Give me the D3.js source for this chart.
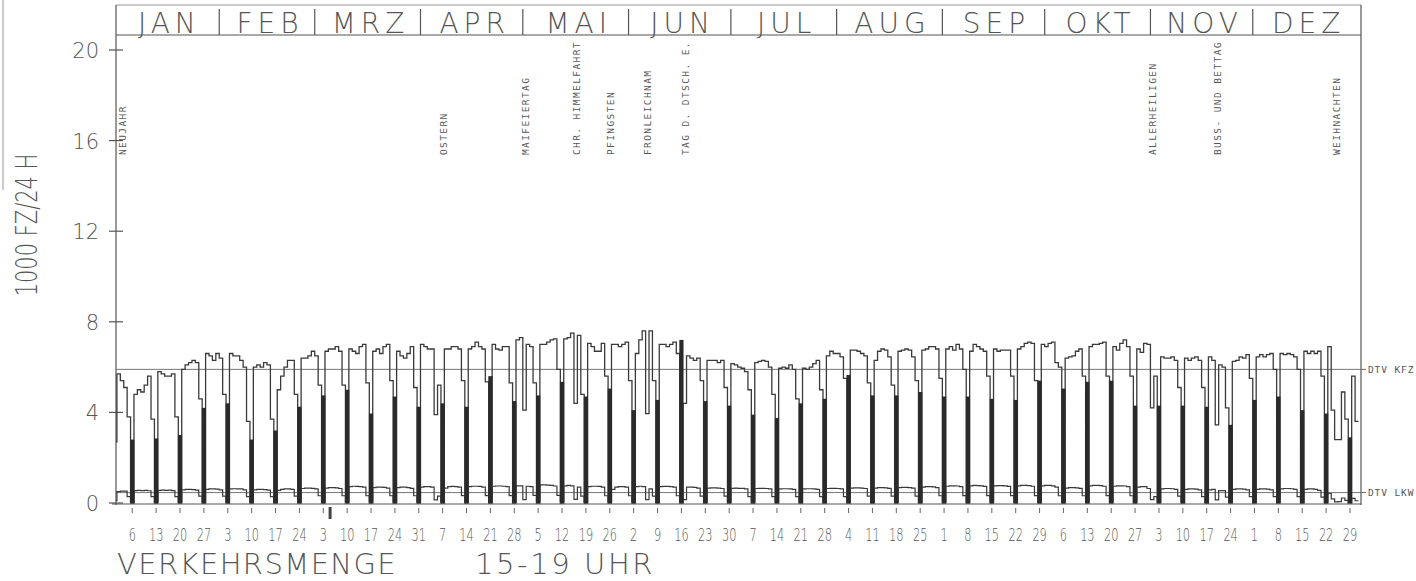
<!DOCTYPE html>
<html>
<head>
<meta charset="utf-8">
<script src="https://cdn.jsdelivr.net/npm/d3@7"></script>
<style>
  html, body { margin: 0; padding: 0; background: #fff; }
  svg { display: block; }
  text { font-family: "DejaVu Sans", sans-serif; font-weight: 200; fill: #555; }
  .mono { font-family: "DejaVu Sans Mono", monospace; font-weight: normal; }
</style>
</head>
<body>
<svg id="chart" width="1416" height="581"></svg>
<script>
// Monate und Tage (1985)
const monthNames = ["JAN", "FEB", "MRZ", "APR", "MAI", "JUN", "JUL", "AUG", "SEP", "OKT", "NOV", "DEZ"];
const monthLengths = [31, 28, 31, 30, 31, 30, 31, 31, 30, 31, 30, 31];

// Sonntage (Achsbeschriftung)
const sundayTicks = [6, 13, 20, 27, 3, 10, 17, 24, 3, 10, 17, 24, 31, 7, 14, 21, 28, 5, 12, 19, 26,
                     2, 9, 16, 23, 30, 7, 14, 21, 28, 4, 11, 18, 25, 1, 8, 15, 22, 29,
                     6, 13, 20, 27, 3, 10, 17, 24, 1, 8, 15, 22, 29];

const yTicks = [0, 4, 8, 12, 16, 20];

// Feiertage
const holidayNames = ["NEUJAHR", "OSTERN", "MAIFEIERTAG", "CHR. HIMMELFAHRT", "PFINGSTEN", "FRONLEICHNAM",
                      "TAG D. DTSCH. E.", "ALLERHEILIGEN", "BUSS- UND BETTAG", "WEIHNACHTEN"];
const holidayDates = [[1, 1], [4, 7], [5, 1], [5, 16], [5, 26], [6, 6], [6, 17], [11, 1], [11, 20], [12, 25]];

// Tageswerte KFZ (1000 Fz)
const kfzJan = [2.7, 5.7, 5.4, 5.1, 3.8, 2.8, 4.8, 5.0, 4.9, 5.2, 5.6, 3.7, 2.85, 5.8, 5.7, 5.6, 5.6, 5.7, 3.8, 3.0,
                5.9, 6.1, 6.2, 6.3, 6.2, 4.6, 4.2, 6.6, 6.5, 6.3, 6.6];
const kfzFeb = [6.4, 4.8, 4.4, 6.6, 6.5, 6.5, 6.3, 6.0, 3.6, 2.8, 6.0, 6.1, 6.0, 6.2, 6.1, 3.7, 3.2, 5.0, 5.6, 6.0,
                6.3, 6.3, 4.8, 4.25, 6.4, 6.4, 6.5, 6.7];
const kfzMrz = [6.5, 5.2, 4.75, 6.7, 6.8, 6.8, 6.9, 6.7, 5.2, 5.0, 6.8, 6.7, 6.6, 6.9, 7.0, 5.3, 3.95, 6.7, 6.8, 6.6,
                6.9, 7.0, 5.4, 4.7, 6.7, 6.5, 6.4, 6.6, 6.9, 5.1, 4.25];
const kfzApr = [7.0, 6.9, 6.8, 6.8, 3.9, 5.2, 4.4, 6.8, 6.8, 6.9, 6.9, 6.8, 5.4, 4.25, 6.8, 6.9, 7.1, 6.9, 6.8, 5.35,
                5.6, 7.0, 6.8, 6.75, 6.9, 6.9, 5.3, 4.5, 7.2, 7.3];
const kfzMai = [4.1, 7.0, 6.9, 5.3, 4.75, 7.0, 7.0, 7.1, 7.2, 7.25, 5.9, 5.35, 7.25, 7.3, 7.5, 4.4, 7.4, 4.8, 4.7, 7.05,
                6.9, 6.7, 6.7, 7.05, 5.6, 5.05, 7.0, 7.0, 6.9, 7.0, 7.1];
const kfzJun = [5.4, 4.1, 6.6, 7.2, 7.6, 3.95, 7.6, 5.4, 4.55, 7.0, 7.0, 6.9, 7.0, 7.1, 6.6, 7.2, 4.4, 6.5, 6.4, 6.3,
                6.4, 5.4, 4.5, 6.3, 6.3, 6.3, 6.2, 6.3, 5.1, 4.3];
const kfzJul = [6.15, 6.1, 6.0, 5.95, 5.8, 5.0, 3.9, 6.2, 6.25, 6.3, 6.25, 6.0, 4.8, 3.75, 5.95, 6.0, 5.95, 6.1, 5.9, 4.6,
                4.4, 5.95, 5.9, 6.0, 6.15, 6.3, 5.0, 4.6, 6.5, 6.7, 6.6];
const kfzAug = [6.6, 6.45, 5.5, 5.65, 6.75, 6.75, 6.7, 6.6, 6.5, 5.3, 4.75, 6.3, 6.7, 6.8, 6.75, 6.45, 5.2, 4.75, 6.7, 6.75,
                6.8, 6.75, 6.45, 5.4, 4.9, 6.75, 6.8, 6.9, 6.9, 6.8, 5.5];
const kfzSep = [4.7, 6.8, 6.9, 6.75, 7.0, 6.8, 5.9, 4.7, 6.7, 7.0, 6.9, 6.8, 6.7, 5.6, 4.6, 6.8, 6.7, 6.75, 6.75, 6.75,
                5.6, 4.55, 6.8, 6.9, 7.05, 7.1, 7.05, 5.4, 5.4, 7.0];
const kfzOkt = [6.9, 7.05, 7.1, 6.2, 6.0, 5.05, 6.4, 6.45, 6.5, 6.7, 6.8, 5.6, 5.35, 6.9, 7.0, 7.0, 7.05, 7.1, 5.6, 5.4,
                6.9, 6.75, 7.05, 7.2, 6.9, 5.6, 4.3, 6.8, 6.65, 7.05, 7.0];
const kfzNov = [4.2, 5.6, 4.3, 6.45, 6.4, 6.4, 6.45, 6.3, 5.1, 4.3, 6.4, 6.3, 6.4, 6.45, 6.3, 5.1, 4.25, 6.45, 6.3, 3.45,
                6.1, 6.0, 4.2, 3.45, 6.25, 6.3, 6.45, 6.4, 6.55, 5.5];
const kfzDez = [4.55, 6.45, 6.55, 6.45, 6.55, 6.6, 5.9, 4.7, 6.6, 6.55, 6.6, 6.55, 6.45, 5.9, 4.1, 6.7, 6.6, 6.7, 6.6, 6.7,
                5.6, 3.95, 6.9, 4.1, 2.8, 2.8, 4.9, 3.7, 2.9, 5.6, 3.6];

// Tageswerte LKW (1000 Fz)
const lkwJan = [0.10, 0.50, 0.52, 0.52, 0.28, 0.05, 0.55, 0.56, 0.55, 0.56, 0.54, 0.28, 0.05, 0.56, 0.57, 0.56, 0.57, 0.55, 0.28, 0.05,
                0.58, 0.60, 0.60, 0.59, 0.57, 0.30, 0.05, 0.60, 0.62, 0.62, 0.61];
const lkwFeb = [0.58, 0.30, 0.05, 0.62, 0.63, 0.62, 0.62, 0.58, 0.28, 0.05, 0.58, 0.60, 0.60, 0.59, 0.57, 0.28, 0.05, 0.56, 0.60, 0.62,
                0.62, 0.60, 0.30, 0.06, 0.64, 0.66, 0.66, 0.65];
const lkwMrz = [0.62, 0.32, 0.06, 0.66, 0.68, 0.68, 0.67, 0.64, 0.32, 0.06, 0.72, 0.74, 0.73, 0.72, 0.70, 0.32, 0.06, 0.68, 0.70, 0.70,
                0.69, 0.66, 0.32, 0.06, 0.68, 0.70, 0.70, 0.68, 0.65, 0.32, 0.06];
const lkwApr = [0.70, 0.72, 0.72, 0.70, 0.14, 0.30, 0.06, 0.66, 0.72, 0.73, 0.72, 0.70, 0.33, 0.06, 0.72, 0.74, 0.74, 0.73, 0.70, 0.33,
                0.07, 0.74, 0.75, 0.75, 0.74, 0.72, 0.33, 0.07, 0.76, 0.76];
const lkwMai = [0.15, 0.74, 0.72, 0.34, 0.07, 0.80, 0.80, 0.79, 0.78, 0.75, 0.34, 0.07, 0.76, 0.78, 0.76, 0.16, 0.70, 0.30, 0.06, 0.72,
                0.74, 0.74, 0.73, 0.70, 0.32, 0.06, 0.60, 0.70, 0.72, 0.72, 0.70];
const lkwJun = [0.32, 0.06, 0.72, 0.74, 0.72, 0.15, 0.62, 0.30, 0.06, 0.72, 0.73, 0.73, 0.72, 0.70, 0.32, 0.06, 0.15, 0.70, 0.70, 0.69,
                0.66, 0.30, 0.06, 0.66, 0.67, 0.67, 0.66, 0.64, 0.30, 0.06];
const lkwJul = [0.65, 0.66, 0.65, 0.65, 0.62, 0.28, 0.05, 0.64, 0.65, 0.65, 0.64, 0.62, 0.28, 0.05, 0.62, 0.63, 0.63, 0.62, 0.60, 0.28,
                0.05, 0.62, 0.63, 0.63, 0.62, 0.60, 0.28, 0.05, 0.64, 0.65, 0.65];
const lkwAug = [0.64, 0.62, 0.28, 0.05, 0.66, 0.67, 0.67, 0.66, 0.64, 0.30, 0.05, 0.66, 0.68, 0.68, 0.67, 0.65, 0.30, 0.05, 0.68, 0.69,
                0.69, 0.68, 0.66, 0.30, 0.05, 0.70, 0.72, 0.72, 0.71, 0.68, 0.32];
const lkwSep = [0.06, 0.74, 0.76, 0.76, 0.75, 0.72, 0.33, 0.06, 0.76, 0.78, 0.77, 0.76, 0.73, 0.33, 0.06, 0.76, 0.77, 0.77, 0.76, 0.73,
                0.33, 0.06, 0.76, 0.78, 0.78, 0.77, 0.74, 0.33, 0.06, 0.76];
const lkwOkt = [0.78, 0.78, 0.76, 0.70, 0.32, 0.06, 0.66, 0.68, 0.68, 0.67, 0.65, 0.32, 0.06, 0.76, 0.78, 0.78, 0.77, 0.74, 0.33, 0.06,
                0.74, 0.76, 0.76, 0.75, 0.72, 0.32, 0.06, 0.70, 0.72, 0.72, 0.64];
const lkwNov = [0.15, 0.28, 0.05, 0.62, 0.64, 0.64, 0.63, 0.60, 0.30, 0.05, 0.60, 0.62, 0.62, 0.61, 0.58, 0.28, 0.05, 0.58, 0.60, 0.14,
                0.55, 0.55, 0.26, 0.05, 0.60, 0.62, 0.62, 0.61, 0.58, 0.28];
const lkwDez = [0.05, 0.60, 0.62, 0.62, 0.61, 0.58, 0.28, 0.05, 0.62, 0.64, 0.64, 0.63, 0.60, 0.28, 0.05, 0.60, 0.62, 0.62, 0.60, 0.56,
                0.26, 0.05, 0.42, 0.18, 0.05, 0.06, 0.22, 0.12, 0.04, 0.20, 0.10];

// DTV-Linien
const dtvKfz = 5.9;
const dtvLkw = 0.46;

// Fehlender Messtag (Marke unter der Achse)
const markerDays = [[3, 5]];

const kfz = [].concat(kfzJan, kfzFeb, kfzMrz, kfzApr, kfzMai, kfzJun, kfzJul, kfzAug, kfzSep, kfzOkt, kfzNov, kfzDez);
const lkw = [].concat(lkwJan, lkwFeb, lkwMrz, lkwApr, lkwMai, lkwJun, lkwJul, lkwAug, lkwSep, lkwOkt, lkwNov, lkwDez);
const monthStart = Array.from(d3.cumsum([0, ...monthLengths]));
const dayIndex = (m, d) => monthStart[m - 1] + d - 1;

// Sonntage als Tagesindex
let mon = 0, prev = 0;
const sundayIdx = sundayTicks.map(t => {
    if (t < prev) mon++;
    prev = t;
    return monthStart[mon] + t - 1;
});
const sundaySet = new Set(sundayIdx);

const axisLeft = 116, axisRight = 1361, headTop = 5, headBottom = 35;

const svg = d3.select("#chart");

const x = d3.scaleLinear().domain([0, 365]).range([113.5, 1358.5]);
const y = d3.scaleLinear().domain([0, 20]).range([503, 50]);

// Scan-Rand links
svg.append("line").attr("x1", 3).attr("x2", 3).attr("y1", 0).attr("y2", 190)
    .attr("stroke", "#bbb").attr("stroke-width", 1.5);

// ===== Kopf mit Monaten =====
const frame = svg.append("g").attr("stroke", "#555").attr("stroke-width", 1.2).attr("fill", "none");
frame.append("line").attr("x1", axisLeft).attr("x2", axisRight).attr("y1", headTop).attr("y2", headTop).attr("stroke", "#999");
frame.append("line").attr("x1", axisLeft).attr("x2", axisRight).attr("y1", headBottom).attr("y2", headBottom);
frame.append("line").attr("x1", axisLeft).attr("x2", axisLeft).attr("y1", headTop).attr("y2", y(0) + 2);
frame.append("line").attr("x1", axisRight).attr("x2", axisRight).attr("y1", headTop).attr("y2", y(0) + 2);
frame.append("line").attr("x1", 112).attr("x2", axisRight).attr("y1", y(0) + 1).attr("y2", y(0) + 1);

frame.selectAll(".msep")
    .data(monthStart.slice(1, 12))
    .enter()
    .append("line")
    .attr("x1", d => x(d)).attr("x2", d => x(d))
    .attr("y1", 9).attr("y2", headBottom);

svg.selectAll(".mlabel")
    .data(monthNames)
    .enter()
    .append("text")
    .attr("x", (d, i) => (x(monthStart[i]) + x(monthStart[i + 1])) / 2 + 3)
    .attr("y", 33)
    .attr("text-anchor", "middle")
    .attr("font-size", "28px")
    .attr("letter-spacing", "5px")
    .text(d => d);

// ===== Y-Achse =====
svg.selectAll(".ytick")
    .data(yTicks)
    .enter()
    .append("line")
    .attr("x1", 109).attr("x2", 123)
    .attr("y1", d => y(d)).attr("y2", d => y(d))
    .attr("stroke", "#555").attr("stroke-width", 1.2);

svg.selectAll(".ylabel")
    .data(yTicks)
    .enter()
    .append("text")
    .attr("x", 99)
    .attr("y", d => y(d) + 8)
    .attr("text-anchor", "end")
    .attr("font-size", "21px")
    .text(d => d);

svg.append("text")
    .attr("transform", "translate(37,225) rotate(-90) scale(0.7,1)")
    .attr("text-anchor", "middle")
    .attr("font-size", "30px")
    .text("1000 FZ/24 H");

// ===== Datenbereich =====
svg.append("clipPath").attr("id", "plotClip")
    .append("rect").attr("x", axisLeft).attr("y", headBottom)
    .attr("width", axisRight - axisLeft).attr("height", y(0) + 2 - headBottom);

const plot = svg.append("g").attr("clip-path", "url(#plotClip)");

// DTV-Linien
[dtvKfz, dtvLkw].forEach(v => {
    plot.append("line")
        .attr("x1", axisLeft).attr("x2", axisRight)
        .attr("y1", y(v)).attr("y2", y(v))
        .attr("stroke", "#777").attr("stroke-width", 1);
});

const step = d3.line()
    .x((d, i) => x(i))
    .y(d => y(d))
    .curve(d3.curveStepAfter);

const kfzLine = kfz.map((v, i) => sundaySet.has(i) ? 0 : v);
plot.append("path")
    .datum([...kfzLine, kfzLine[kfzLine.length - 1]])
    .attr("d", step)
    .attr("fill", "none")
    .attr("stroke", "#3a3a3a")
    .attr("stroke-width", 1.3);

plot.append("path")
    .datum([...lkw, lkw[lkw.length - 1]])
    .attr("d", step)
    .attr("fill", "none")
    .attr("stroke", "#3a3a3a")
    .attr("stroke-width", 1.2);

// Sonntagsbalken
plot.selectAll(".sun")
    .data(sundayIdx)
    .enter()
    .append("rect")
    .attr("x", d => x(d) - 0.4)
    .attr("width", d => x(d + 1) - x(d) + 0.8)
    .attr("y", d => y(kfz[d]))
    .attr("height", d => y(0) - y(kfz[d]))
    .attr("fill", "#2a2a2a");

// DTV-Beschriftung
[[dtvKfz, "DTV KFZ"], [dtvLkw, "DTV LKW"]].forEach(([v, t]) => {
    svg.append("line")
        .attr("x1", axisRight).attr("x2", 1366)
        .attr("y1", y(v)).attr("y2", y(v))
        .attr("stroke", "#666").attr("stroke-width", 1);
    svg.append("text")
        .attr("class", "mono")
        .attr("x", 1368).attr("y", y(v) + 3.5)
        .attr("font-size", "9.5px")
        .attr("letter-spacing", "0.9px")
        .text(t);
});

// ===== Feiertage =====
svg.selectAll(".hol")
    .data(holidayNames)
    .enter()
    .append("text")
    .attr("class", "mono")
    .attr("transform", (d, i) => {
        const di = dayIndex(holidayDates[i][0], holidayDates[i][1]);
        const hx = Math.max(x(di + 0.5) + 4, axisLeft + 10);
        return `translate(${hx},155) rotate(-90)`;
    })
    .attr("font-size", "9.5px")
    .attr("letter-spacing", "1.4px")
    .text(d => d);

// ===== X-Achse (Sonntage) =====
svg.selectAll(".xtick")
    .data(sundayIdx)
    .enter()
    .append("line")
    .attr("x1", d => x(d + 0.5)).attr("x2", d => x(d + 0.5))
    .attr("y1", 508).attr("y2", 513)
    .attr("stroke", "#666").attr("stroke-width", 1);

svg.selectAll(".xlabel")
    .data(sundayIdx)
    .enter()
    .append("text")
    .attr("x", d => x(d + 0.5))
    .attr("y", 541)
    .attr("text-anchor", "middle")
    .attr("font-size", "18px")
    .attr("textLength", (d, i) => String(sundayTicks[i]).length * 7.2)
    .attr("lengthAdjust", "spacingAndGlyphs")
    .text((d, i) => sundayTicks[i]);

svg.selectAll(".marker")
    .data(markerDays)
    .enter()
    .append("rect")
    .attr("x", d => x(dayIndex(d[0], d[1]) + 0.5) - 1.5)
    .attr("width", 3)
    .attr("y", 507).attr("height", 12)
    .attr("fill", "#444");

// ===== Titel =====
svg.append("text").attr("x", 117).attr("y", 574)
    .attr("font-size", "29px").attr("letter-spacing", "1.4px")
    .text("VERKEHRSMENGE");
svg.append("text").attr("x", 475).attr("y", 574)
    .attr("font-size", "29px").attr("letter-spacing", "2.6px")
    .text("15-19 UHR");
</script>
</body>
</html>
